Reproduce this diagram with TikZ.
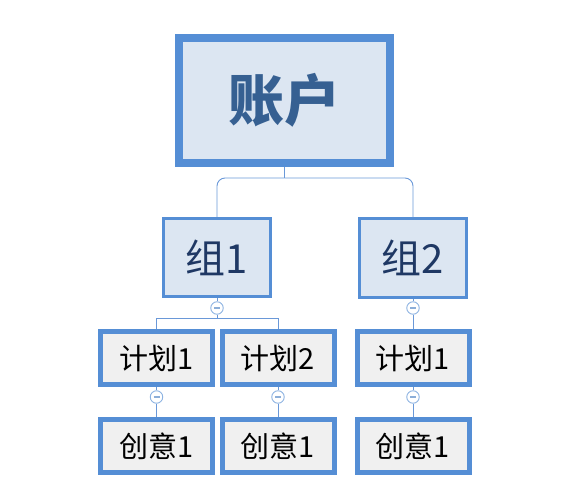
\documentclass[tikz,border=0pt]{standalone}
\usepackage{fontspec}
\newfontfamily\cjk{Noto Sans CJK SC}
\usepackage{tikz}
\usetikzlibrary{shapes,calc,positioning}
\definecolor{boxblue}{HTML}{558ED5}
\definecolor{lightfill}{HTML}{DCE6F2}
\definecolor{grayfill}{HTML}{F0F0F0}
\definecolor{linkblue}{HTML}{6A98D8}
\definecolor{dotblue}{HTML}{8DB3E2}
\definecolor{accttext}{HTML}{366092}
\definecolor{grptext}{HTML}{1F3864}

\begin{document}
\begin{tikzpicture}[x=1pt, y=-1pt, inner sep=0pt,
  acctbox/.style={rectangle,draw=boxblue,fill=lightfill,line width=8pt,
    minimum width=211pt,minimum height=125pt,text=accttext,
    font=\cjk\fontsize{56}{60}\selectfont\bfseries},
  grpbox/.style={rectangle,draw=boxblue,fill=lightfill,line width=3pt,
    minimum width=107pt,minimum height=78pt,text=grptext,
    font=\cjk\fontsize{40}{44}\selectfont},
  planbox/.style={rectangle,draw=boxblue,fill=grayfill,line width=5pt,
    minimum width=112pt,minimum height=53pt,text=black,
    font=\cjk\fontsize{29}{32}\selectfont},
  toggle/.style={circle,draw=dotblue,fill=white,line width=0.9pt,minimum size=12.5pt,
    path picture={\draw[dotblue!90!gray,line width=1.2pt]
      ($(path picture bounding box.center)+(-3pt,0)$) -- ($(path picture bounding box.center)+(3pt,0)$);}}]
   \useasboundingbox (0,0) rectangle (581,497);
   % account
   \node[acctbox] (acct) at (284.5,100.5) {账户};
   % groups
   \node[grpbox] (g1) at (217,257.5) {组1};
   \node[grpbox] (g2) at (413,258) {组2};
   % plans
   \node[planbox] (p1) at (156.5,358) {计划1};
   \node[planbox] (p2) at (278,358) {计划2};
   \node[planbox] (p3) at (413,358) {计划1};
   % creatives
   \node[planbox] (c1) at (156.5,446) {创意1};
   \node[planbox] (c2) at (278,446) {创意1};
   \node[planbox] (c3) at (413,446) {创意1};
   % collapse buttons
   \node[toggle] (m1) at (217,308) {};
   \node[toggle] (m2) at (413,308) {};
   \node[toggle] (n1) at (156.5,397) {};
   \node[toggle] (n2) at (278,397) {};
   \node[toggle] (n3) at (413,397) {};
   \coordinate (hub) at (284.5,178);
   \coordinate (split) at (217,318);
   \begin{scope}[draw=linkblue,line width=0.9pt]
    \draw (acct.south) -- (hub);
    \draw[rounded corners=8pt] (hub) -| (g1.north);
    \draw[rounded corners=8pt] (hub) -| (g2.north);
    \draw (g1.south) -- (m1.north);
    \draw (m1.south) -- (split) -| (p1.north);
    \draw (split) -| (p2.north);
    \draw (g2.south) -- (m2.north);
    \draw (m2.south) -- (p3.north);
    \draw (p1.south) -- (n1.north);
    \draw (n1.south) -- (c1.north);
    \draw (p2.south) -- (n2.north);
    \draw (n2.south) -- (c2.north);
    \draw (p3.south) -- (n3.north);
    \draw (n3.south) -- (c3.north);
   \end{scope}
\end{tikzpicture}
\end{document}
